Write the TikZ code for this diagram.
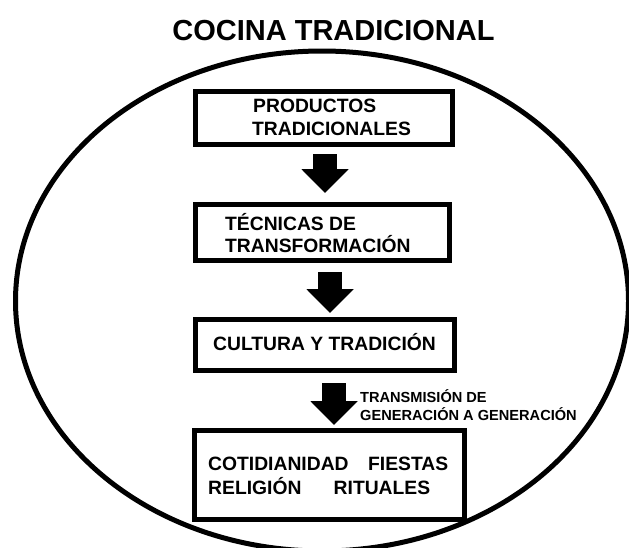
\documentclass[tikz,border=0pt]{standalone}
\usepackage{fontspec}
\setmainfont{Liberation Sans}
\usetikzlibrary{arrows.meta,shapes.geometric}
\begin{document}
\begin{tikzpicture}[x=1pt,y=-1pt,
  box/.style={draw, line width=5pt, rectangle, inner sep=0pt},
  lbl/.style={anchor=base west, inner sep=0pt, font=\fontsize{19.3}{23}\selectfont\bfseries},
  smalllbl/.style={anchor=base west, inner sep=0pt, font=\fontsize{14.6}{18}\selectfont\bfseries},
  blockarrow/.style={line width=24pt, -{Triangle[width=46pt,length=24pt]}}]
\useasboundingbox (0,0) rectangle (629,547);
\fill[white] (0,0) rectangle (629,547);
% outer ellipse
\node[draw, line width=5pt, ellipse, inner sep=0pt, minimum width=613pt, minimum height=500pt] (frame) at (322,301) {};
% title
\node[anchor=base, inner sep=0pt, font=\fontsize{29}{34}\selectfont\bfseries] (title) at (333.5,40) {COCINA TRADICIONAL};
% boxes
\node[box, minimum width=257pt, minimum height=53pt] (b1) at (324,118) {};
\node[box, minimum width=254pt, minimum height=56pt] (b2) at (322.5,232.5) {};
\node[box, minimum width=259pt, minimum height=51pt] (b3) at (325,345) {};
\node[box, minimum width=270pt, minimum height=89pt] (b4) at (329.5,475) {};
% box texts
\node[lbl] (t1a) at (253,112.8) {PRODUCTOS};
\node[lbl] (t1b) at (252,135.8) {TRADICIONALES};
\node[lbl] (t2a) at (225,230) {TÉCNICAS DE};
\node[lbl] (t2b) at (225,252) {TRANSFORMACIÓN};
\node[lbl] (t3) at (213,350) {CULTURA Y TRADICIÓN};
\node[lbl] (t4a) at (208,470) {\makebox[240pt][l]{COTIDIANIDAD\hfill FIESTAS}};
\node[lbl] (t4b) at (208,494) {\makebox[222pt][l]{RELIGIÓN\hfill RITUALES}};
% arrows
\coordinate (a1s) at (325,154);
\coordinate (a1e) at (325,193);
\coordinate (a2s) at (330,272);
\coordinate (a2e) at (330,313);
\coordinate (a3s) at (334,383);
\coordinate (a3e) at (334,425);
\draw[blockarrow] (a1s) -- (a1e);
\draw[blockarrow] (a2s) -- (a2e);
\draw[blockarrow] (a3s) -- (a3e);
% arrow label
\node[smalllbl] (m1) at (360,402) {TRANSMISIÓN DE};
\node[smalllbl] (m2) at (360,420) {GENERACIÓN A GENERACIÓN};
\end{tikzpicture}
\end{document}
